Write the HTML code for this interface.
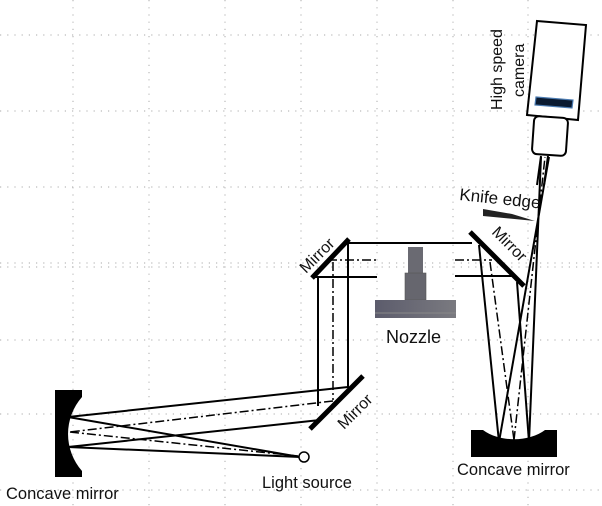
<!DOCTYPE html>
<html><head><meta charset="utf-8"><style>
html,body{margin:0;padding:0;background:#fff}
svg{display:block}
text{font-family:"Liberation Sans",sans-serif;fill:#111}
</style></head><body>
<svg width="602" height="506" viewBox="0 0 602 506" xmlns="http://www.w3.org/2000/svg">
<defs>
<linearGradient id="ng" x1="0" x2="1" y1="0" y2="0">
<stop offset="0" stop-color="#5c5c6c"/><stop offset="1" stop-color="#7a7a80"/>
</linearGradient>
</defs>
<g stroke="#bbb" stroke-width="1.2" stroke-dasharray="1.2,6" fill="none">
<line x1="0" y1="35" x2="602" y2="35"/>
<line x1="0" y1="111" x2="602" y2="111"/>
<line x1="0" y1="187" x2="602" y2="187"/>
<line x1="0" y1="263" x2="602" y2="263"/>
<line x1="0" y1="267" x2="602" y2="267"/>
<line x1="0" y1="340" x2="602" y2="340"/>
<line x1="0" y1="414" x2="602" y2="414"/>
<line x1="0" y1="490" x2="602" y2="490"/>
<line x1="73" y1="0" x2="73" y2="506"/>
<line x1="149" y1="0" x2="149" y2="506"/>
<line x1="225" y1="0" x2="225" y2="506"/>
<line x1="301" y1="0" x2="301" y2="506"/>
<line x1="377" y1="0" x2="377" y2="506"/>
<line x1="453" y1="0" x2="453" y2="506"/>
<line x1="528" y1="0" x2="528" y2="506"/>
</g>
<g stroke="#000" stroke-width="2" fill="none">
<line x1="348" y1="243" x2="472" y2="243"/>
<line x1="313" y1="277" x2="377" y2="277"/>
<line x1="455" y1="276" x2="512" y2="276"/>
<line x1="318" y1="277" x2="318" y2="406"/>
<line x1="348" y1="241" x2="348" y2="388"/>
<line x1="348" y1="387" x2="68" y2="417"/>
<line x1="320" y1="420" x2="68" y2="447"/>
<line x1="68" y1="417" x2="300" y2="457"/>
<line x1="68" y1="447" x2="300" y2="457"/>
<line x1="479" y1="245" x2="499" y2="442"/>
<line x1="517" y1="282" x2="529" y2="442"/>
<line x1="499" y1="442" x2="549" y2="157"/>
<line x1="529" y1="442" x2="541" y2="157"/>
</g>
<g stroke="#000" stroke-width="1.5" fill="none" stroke-dasharray="9,3,2,3">
<line x1="328" y1="260" x2="377" y2="260"/>
<line x1="455" y1="260" x2="492" y2="260"/>
<line x1="333" y1="262" x2="333" y2="400"/>
<line x1="333" y1="401" x2="70" y2="432"/>
<line x1="70" y1="432" x2="298" y2="456"/>
<line x1="490" y1="262" x2="514" y2="440"/>
<line x1="514" y1="440" x2="545" y2="157"/>
</g>
<g stroke="#000" stroke-width="5" stroke-linecap="butt">
<line x1="312" y1="278" x2="349" y2="239"/>
<line x1="470" y1="232" x2="524" y2="286"/>
<line x1="310" y1="429" x2="363" y2="376"/>
</g>
<circle cx="304" cy="457" r="5" fill="#fff" stroke="#000" stroke-width="1.5"/>
<path d="M55 390 H82 V397 A56 56 0 0 0 82 471 V477 H55 Z" fill="#000"/>
<path d="M471 430 H483 A40 25 0 0 0 545 430 H557 V457 H471 Z" fill="#000"/>
<rect x="408" y="247" width="15" height="26" fill="#6a6a72"/>
<rect x="405" y="273" width="21" height="27" fill="#66666e" stroke="#555" stroke-width="0.6"/>
<rect x="375" y="300" width="81" height="18" fill="url(#ng)"/>
<line x1="375" y1="313" x2="456" y2="313" stroke="#888" stroke-width="1"/>
<polygon points="483,209 512,214 535,221 483,216" fill="#222"/>
<polygon points="537,21 586,25 578,120 527,115" fill="#fff" stroke="#000" stroke-width="2"/>
<polygon points="536,97 573,100 572,108 535,105" fill="#0a1a30" stroke="#4a7ab0" stroke-width="1.2"/>
<rect x="533" y="117" width="34" height="38" rx="5" fill="#fff" stroke="#000" stroke-width="2" transform="rotate(4 550 136)"/>
<line x1="541" y1="156" x2="537" y2="185" stroke="#000" stroke-width="2"/>
<line x1="548" y1="156" x2="544" y2="185" stroke="#000" stroke-width="2"/>
<text x="0" y="0" font-size="16" transform="translate(306 274) rotate(-45)">Mirror</text>
<text x="0" y="0" font-size="16" transform="translate(491 233) rotate(45)">Mirror</text>
<text x="0" y="0" font-size="16" transform="translate(344 430) rotate(-45)">Mirror</text>
<text x="459" y="200" font-size="17" transform="rotate(6 459 200)">Knife edge</text>
<text x="0" y="0" font-size="16" transform="translate(502 110) rotate(-90)">High speed</text>
<text x="0" y="0" font-size="16" transform="translate(524 97) rotate(-90)">camera</text>
<text x="386" y="343" font-size="18">Nozzle</text>
<text x="262" y="488" font-size="16.5">Light source</text>
<text x="6" y="499" font-size="16.5">Concave mirror</text>
<text x="457" y="475" font-size="16.5">Concave mirror</text>
</svg>
</body></html>
